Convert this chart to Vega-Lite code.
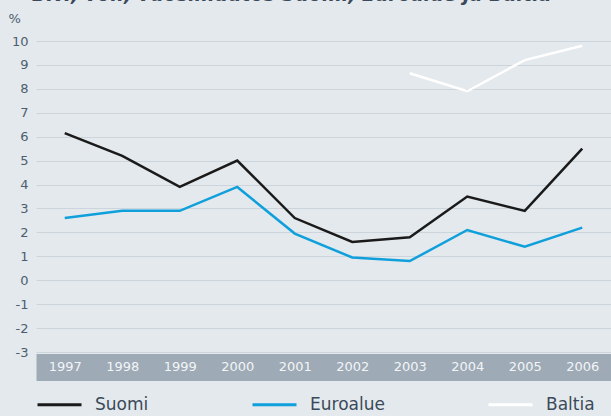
{
  "$schema": "https://vega.github.io/schema/vega-lite/v6.json",
  "width": 575,
  "height": 311,
  "autosize": {"type": "none"},
  "padding": {"left": 36, "top": 41, "right": 0, "bottom": 64},
  "background": "#e4e9ed",
  "title": {
    "text": "BKT, vol., vuosimuutos Suomi, Euroalue ja Baltia",
    "anchor": "start",
    "frame": "group",
    "offset": 7,
    "dx": -4,
    "font": "DejaVu Sans",
    "fontSize": 19,
    "fontStyle": "italic",
    "fontWeight": "bold",
    "color": "#3b4a5a"
  },
  "config": {
    "view": {"stroke": null},
    "font": "DejaVu Sans"
  },
  "data": {
    "values": [
      {"year": "1997", "series": "Suomi", "value": 6.15},
      {"year": "1998", "series": "Suomi", "value": 5.2},
      {"year": "1999", "series": "Suomi", "value": 3.9},
      {"year": "2000", "series": "Suomi", "value": 5.0},
      {"year": "2001", "series": "Suomi", "value": 2.6},
      {"year": "2002", "series": "Suomi", "value": 1.6},
      {"year": "2003", "series": "Suomi", "value": 1.8},
      {"year": "2004", "series": "Suomi", "value": 3.5},
      {"year": "2005", "series": "Suomi", "value": 2.9},
      {"year": "2006", "series": "Suomi", "value": 5.5},
      {"year": "1997", "series": "Euroalue", "value": 2.6},
      {"year": "1998", "series": "Euroalue", "value": 2.9},
      {"year": "1999", "series": "Euroalue", "value": 2.9},
      {"year": "2000", "series": "Euroalue", "value": 3.9},
      {"year": "2001", "series": "Euroalue", "value": 1.95},
      {"year": "2002", "series": "Euroalue", "value": 0.95},
      {"year": "2003", "series": "Euroalue", "value": 0.8},
      {"year": "2004", "series": "Euroalue", "value": 2.1},
      {"year": "2005", "series": "Euroalue", "value": 1.4},
      {"year": "2006", "series": "Euroalue", "value": 2.2},
      {"year": "2003", "series": "Baltia", "value": 8.65},
      {"year": "2004", "series": "Baltia", "value": 7.9},
      {"year": "2005", "series": "Baltia", "value": 9.2},
      {"year": "2006", "series": "Baltia", "value": 9.8}
    ]
  },
  "encoding": {
    "y": {
      "field": "value",
      "type": "quantitative",
      "scale": {"domain": [-3, 10], "nice": false, "zero": false},
      "axis": {
        "values": [-3, -2, -1, 0, 1, 2, 3, 4, 5, 6, 7, 8, 9, 10],
        "labelExpr": "toString(datum.value)",
        "labelOverlap": false,
        "title": "%",
        "titleAngle": 0,
        "titleX": -28,
        "titleY": -23,
        "titleAlign": "left",
        "titleBaseline": "middle",
        "titleFontWeight": "normal",
        "titleFontSize": 13,
        "titleColor": "#4d5d6d",
        "domain": false,
        "ticks": false,
        "labelPadding": 8,
        "labelColor": "#4d5d6d",
        "labelFontSize": 13,
        "gridColor": "#cdd5dc",
        "gridWidth": 1
      }
    },
    "detail": {"field": "series"}
  },
  "resolve": {"axis": {"x": "independent"}},
  "layer": [
    {
      "mark": {"type": "line", "strokeWidth": 2.5},
      "encoding": {
        "x": {
          "field": "year",
          "type": "ordinal",
          "scale": {"type": "point", "padding": 0.5},
          "axis": {
            "orient": "bottom",
            "title": null,
            "labels": false,
            "ticks": false,
            "grid": false,
            "domainColor": "#9eaab6",
            "domainWidth": 27,
            "offset": 15,
            "zindex": 0
          }
        },
        "color": {
          "field": "series",
          "type": "nominal",
          "scale": {
            "domain": ["Suomi", "Euroalue", "Baltia"],
            "range": ["#1a1a1a", "#0fa0dc", "#ffffff"]
          },
          "legend": {
            "title": null,
            "orient": "none",
            "direction": "horizontal",
            "legendX": 0,
            "legendY": 340,
            "columns": 3,
            "columnPadding": 97,
            "symbolType": "stroke",
            "symbolSize": 1936,
            "symbolStrokeWidth": 3,
            "labelFontSize": 17,
            "labelColor": "#3b4a5a",
            "labelOffset": 12
          }
        }
      }
    },
    {
      "mark": {"type": "line", "opacity": 0},
      "encoding": {
        "x": {
          "field": "year",
          "type": "ordinal",
          "axis": {
            "orient": "bottom",
            "title": null,
            "labelAngle": 0,
            "ticks": false,
            "grid": false,
            "domain": false,
            "offset": 15,
            "labelPadding": -7,
            "labelColor": "#f2f5f7",
            "labelFontSize": 13,
            "labelBaseline": "top",
            "zindex": 1
          }
        }
      }
    }
  ]
}
